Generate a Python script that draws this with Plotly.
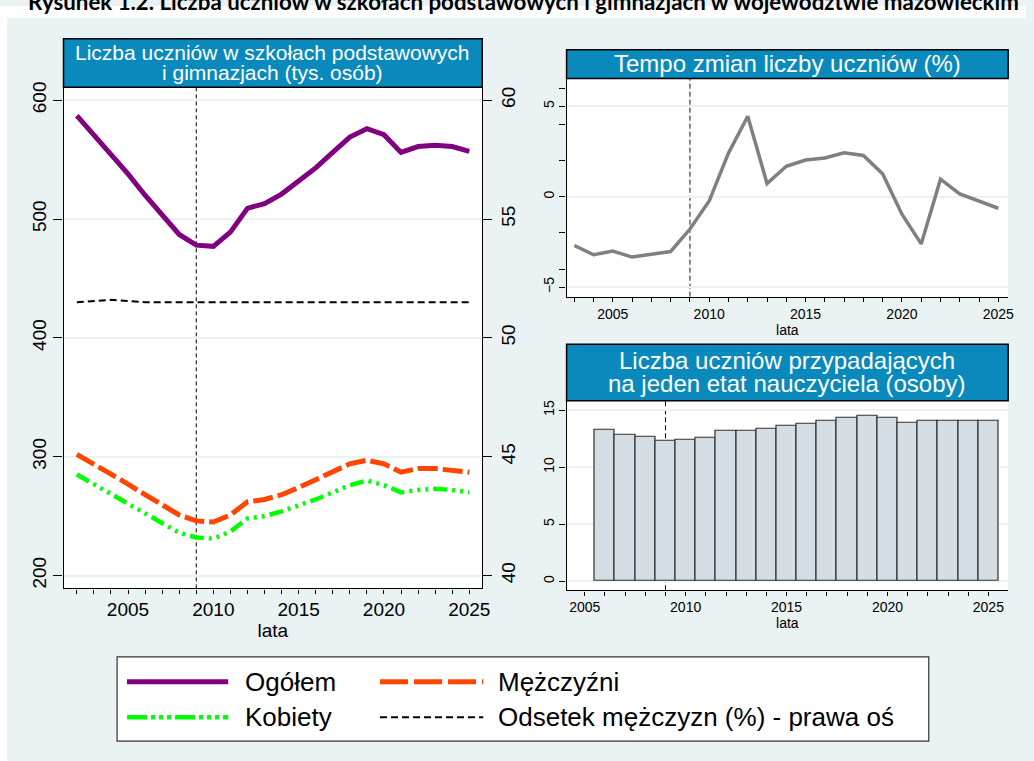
import plotly.graph_objects as go

W, H = 1034, 761

# ---------------- data ----------------
years_main = [2002, 2003, 2004, 2005, 2006, 2007, 2008, 2009, 2010, 2011, 2012, 2013,
              2014, 2015, 2016, 2017, 2018, 2019, 2020, 2021, 2022, 2023, 2024, 2025]
ogolem = [587, 571, 555, 538, 520, 503, 487, 478, 477, 489, 509, 513,
          521, 532, 543, 556, 569, 576, 571, 556, 561, 562, 561, 557]
mezczyzni = [302, 294, 286, 277, 268, 259, 251, 246, 245, 251, 262, 264,
             268, 274, 281, 287, 294, 297, 294, 287, 290, 290, 289, 287]
kobiety = [285, 277, 269, 261, 252, 244, 236, 232, 231, 237, 248, 250,
           254, 259, 264, 270, 276, 280, 276, 270, 272, 273, 272, 270]
odsetek = [51.5, 51.55, 51.6, 51.55, 51.5, 51.5, 51.5, 51.5, 51.5, 51.5, 51.5, 51.5,
           51.5, 51.5, 51.5, 51.5, 51.5, 51.5, 51.5, 51.5, 51.5, 51.5, 51.5, 51.5]

years_tempo = [2003, 2004, 2005, 2006, 2007, 2008, 2009, 2010, 2011, 2012, 2013, 2014,
               2015, 2016, 2017, 2018, 2019, 2020, 2021, 2022, 2023, 2024, 2025]
tempo = [-2.70, -3.21, -3.01, -3.34, -3.18, -3.03, -1.79, -0.24, 2.41, 4.45, 0.73, 1.68,
         2.03, 2.14, 2.43, 2.28, 1.26, -0.97, -2.61, 0.97, 0.15, -0.24, -0.64]

years_bar = [2006, 2007, 2008, 2009, 2010, 2011, 2012, 2013, 2014, 2015, 2016, 2017,
             2018, 2019, 2020, 2021, 2022, 2023, 2024, 2025]
uczniowie_na_etat = [13.26, 12.85, 12.65, 12.33, 12.38, 12.53, 13.17, 13.14, 13.37, 13.60,
                     13.81, 14.07, 14.30, 14.48, 14.33, 13.90, 14.04, 14.07, 14.07, 14.07]

reform_year = 2009

main_title = "Rysunek 1.2. Liczba uczniów w szkołach podstawowych i gimnazjach w województwie mazowieckim"
head_left = ["Liczba uczniów w szkołach podstawowych", "i gimnazjach (tys. osób)"]
head_tempo = "Tempo zmian liczby uczniów (%)"
head_bar = ["Liczba uczniów przypadających", "na jeden etat nauczyciela (osoby)"]
legend_names = ["Ogółem", "Mężczyźni", "Kobiety", "Odsetek mężczyzn (%) - prawa oś"]
x_title = "lata"

# ---------------- style ----------------
BG = "#eaf2f3"
HEAD = "#0a8abc"
FONT = "Liberation Sans, Arial, sans-serif"
C_TOT = "#800080"
C_M = "#ff4500"
C_K = "#00ff00"
C_T = "#808080"
DASH_M = "20px,5px"
DASH_K = "14px,5px,3px,5px,3px,5px,3px,5px"
DASH_O = "7px,4px"
LEG_DASH_M = "28px,6px"
LEG_DASH_K = "20px,4px,4px,4px,4px,4px,4px,4px"


def px(x):
    return x / W


def py(y):
    return 1 - y / H


fig = go.Figure()

# left panel
fig.add_trace(go.Scatter(x=years_main, y=ogolem, mode="lines", xaxis="x", yaxis="y",
                         line=dict(color=C_TOT, width=5), showlegend=False))
fig.add_trace(go.Scatter(x=years_main, y=mezczyzni, mode="lines", xaxis="x", yaxis="y",
                         line=dict(color=C_M, width=5, dash=DASH_M), showlegend=False))
fig.add_trace(go.Scatter(x=years_main, y=kobiety, mode="lines", xaxis="x", yaxis="y",
                         line=dict(color=C_K, width=4.5, dash=DASH_K), showlegend=False))
fig.add_trace(go.Scatter(x=years_main, y=odsetek, mode="lines", xaxis="x", yaxis="y2",
                         line=dict(color="black", width=2, dash=DASH_O), showlegend=False))
# tempo panel
fig.add_trace(go.Scatter(x=years_tempo, y=tempo, mode="lines", xaxis="x2", yaxis="y3",
                         line=dict(color=C_T, width=3.5), showlegend=False))
# bar panel
fig.add_trace(go.Bar(x=years_bar, y=uczniowie_na_etat, xaxis="x3", yaxis="y4", width=1,
                     marker=dict(color="#d4dde4", line=dict(color="#303030", width=1.2)),
                     showlegend=False))

# panel geometry (px)
L = dict(x0=64, x1=486, top=82, bottom=587, htop=33)
T = dict(x0=571, x1=1016, top=73, bottom=293, htop=44)
B = dict(x0=571, x1=1016, top=398, bottom=589, htop=341)

tickfont_big = dict(family=FONT, size=19, color="black")
tickfont_small = dict(family=FONT, size=14, color="black")

common_x = dict(showline=True, linecolor="black", linewidth=1.3, ticks="outside", ticklen=4,
                tickcolor="black", tick0=2000, dtick=5, showgrid=False, zeroline=False,
                minor=dict(dtick=1, tick0=2000, ticks="outside", ticklen=4, tickcolor="black",
                           showgrid=False))
common_y = dict(showline=True, linecolor="black", linewidth=1.3, ticks="outside",
                tickcolor="black", tickangle=-90, showgrid=True, gridcolor=BG, gridwidth=1.5,
                zeroline=False)

layout = dict(
    width=W, height=H, margin=dict(l=0, r=0, t=0, b=0),
    paper_bgcolor=BG, plot_bgcolor="white",
    font=dict(family=FONT, color="black"),
    showlegend=False, bargap=0,
    xaxis=dict(common_x, domain=[px(L["x0"]), px(L["x1"])], anchor="y",
               range=[2001.22, 2025.76], tickfont=tickfont_big,
               title=dict(text=x_title, font=dict(family=FONT, size=19), standoff=0)),
    yaxis=dict(common_y, domain=[py(L["bottom"]), py(L["top"])], anchor="x",
               range=[189.2, 610.8], tickvals=[200, 300, 400, 500, 600], ticklen=9,
               tickfont=tickfont_big),
    yaxis2=dict(common_y, overlaying="y", side="right", anchor="x",
                range=[39.46, 60.54], tickvals=[40, 45, 50, 55, 60], ticklen=9,
                showgrid=False, tickfont=tickfont_big),
    xaxis2=dict(common_x, domain=[px(T["x0"]), px(T["x1"])], anchor="y3",
                range=[2002.6, 2025.51], tickfont=tickfont_small,
                title=dict(text=x_title, font=dict(family=FONT, size=14), standoff=0)),
    yaxis3=dict(common_y, domain=[py(T["bottom"]), py(T["top"])], anchor="x2",
                range=[-5.53, 6.54], tickvals=[-5, 0, 5], ticklen=6,
                tickfont=tickfont_small,
                minor=dict(tickvals=[-4, -2, 2, 4, 6], ticks="outside", ticklen=6,
                           tickcolor="black", showgrid=False)),
    xaxis3=dict(common_x, domain=[px(B["x0"]), px(B["x1"])], anchor="y4",
                range=[2004.1, 2025.98], tickfont=tickfont_small,
                title=dict(text=x_title, font=dict(family=FONT, size=14), standoff=0)),
    yaxis4=dict(common_y, domain=[py(B["bottom"]), py(B["top"])], anchor="x3",
                range=[-0.81, 15.81], tickvals=[0, 5, 10, 15], ticklen=6,
                tickfont=tickfont_small),
)

shapes = []
# white strips outside the grey graph region
shapes.append(dict(type="rect", xref="paper", yref="paper", x0=0, x1=1, y0=py(12), y1=1,
                   fillcolor="white", line=dict(width=0), layer="below"))
shapes.append(dict(type="rect", xref="paper", yref="paper", x0=0, x1=px(7), y0=0, y1=1,
                   fillcolor="white", line=dict(width=0), layer="below"))
# reform year lines
shapes.append(dict(type="line", xref="x", yref="y domain", x0=reform_year, x1=reform_year,
                   y0=0, y1=1, line=dict(color="black", width=1, dash="4px,3px"), layer="below"))
shapes.append(dict(type="line", xref="x2", yref="y3 domain", x0=reform_year, x1=reform_year,
                   y0=0, y1=1, line=dict(color="#606060", width=1.5, dash="5px,3px"), layer="below"))
shapes.append(dict(type="line", xref="x3", yref="y4 domain", x0=reform_year, x1=reform_year,
                   y0=0, y1=1, line=dict(color="black", width=1, dash="5px,3px"), layer="below"))
# header boxes
for P in (L, T, B):
    shapes.append(dict(type="rect", xref="paper", yref="paper",
                       x0=px(P["x0"]), x1=px(P["x1"]), y0=py(P["top"]), y1=py(P["htop"]),
                       fillcolor=HEAD, line=dict(color="black", width=1.5), layer="above"))
# legend box
shapes.append(dict(type="rect", xref="paper", yref="paper", x0=px(118), x1=px(936),
                   y0=py(741), y1=py(656), fillcolor="white",
                   line=dict(color="#333333", width=1.2), layer="above"))
leg_items = [
    (128, 230, 681, dict(color=C_TOT, width=5)),
    (383, 487, 681, dict(color=C_M, width=5, dash=LEG_DASH_M)),
    (128, 230, 717, dict(color=C_K, width=4.5, dash=LEG_DASH_K)),
    (383, 487, 717, dict(color="black", width=2, dash=DASH_O)),
]
for x0, x1, yy, ln in leg_items:
    shapes.append(dict(type="line", xref="paper", yref="paper", x0=px(x0), x1=px(x1),
                       y0=py(yy), y1=py(yy), line=ln, layer="above"))
layout["shapes"] = shapes

ann = []
ann.append(dict(text="<b>" + main_title + "</b>", xref="paper", yref="paper",
                x=px(528), y=py(-5), xanchor="center", yanchor="middle", showarrow=False,
                font=dict(family="Lato, sans-serif", size=22.3, color="black")))
ann.append(dict(text=head_left[0], xref="paper", yref="paper", x=px(275), y=py(47),
                xanchor="center", yanchor="middle", showarrow=False,
                font=dict(family=FONT, size=21, color="white")))
ann.append(dict(text=head_left[1], xref="paper", yref="paper", x=px(275), y=py(67),
                xanchor="center", yanchor="middle", showarrow=False,
                font=dict(family=FONT, size=21, color="white")))
ann.append(dict(text=head_tempo, xref="paper", yref="paper", x=px(793.5), y=py(58),
                xanchor="center", yanchor="middle", showarrow=False,
                font=dict(family=FONT, size=24, color="white")))
ann.append(dict(text=head_bar[0], xref="paper", yref="paper", x=px(793.5), y=py(357),
                xanchor="center", yanchor="middle", showarrow=False,
                font=dict(family=FONT, size=24, color="white")))
ann.append(dict(text=head_bar[1], xref="paper", yref="paper", x=px(793.5), y=py(381),
                xanchor="center", yanchor="middle", showarrow=False,
                font=dict(family=FONT, size=24, color="white")))
leg_text_pos = [(245, 681), (500, 681), (245, 717), (500, 717)]
for name, (tx, ty) in zip(legend_names, leg_text_pos):
    ann.append(dict(text=name, xref="paper", yref="paper", x=px(tx), y=py(ty),
                    xanchor="left", yanchor="middle", showarrow=False,
                    font=dict(family=FONT, size=26, color="black")))
layout["annotations"] = ann

fig.update_layout(layout)
fig.write_html("out.html", config={"displayModeBar": False},
               post_script="document.body.style.margin='0px';document.body.style.overflow='hidden';")
